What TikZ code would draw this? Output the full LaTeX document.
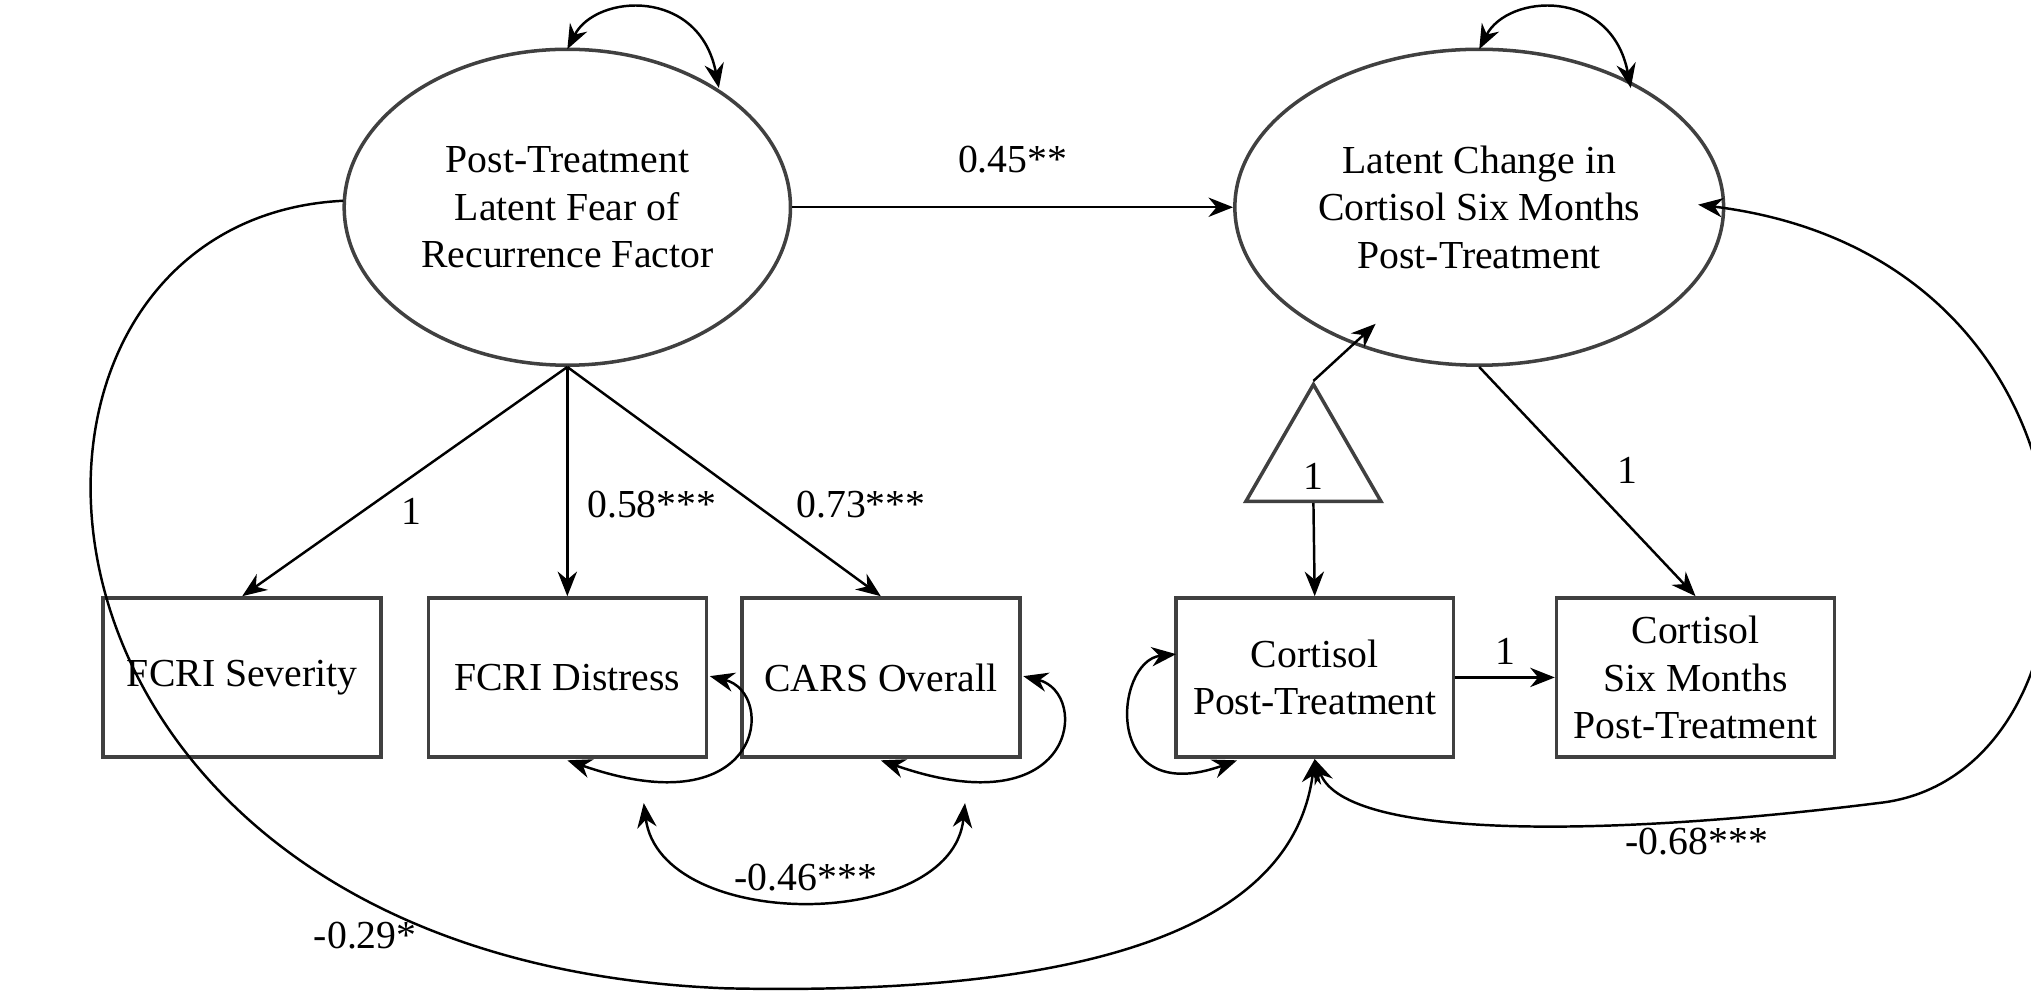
\documentclass[tikz,border=0pt]{standalone}
\usepackage{fontspec}
\setmainfont{Liberation Serif}
\usetikzlibrary{arrows.meta,shapes.geometric}
\begin{document}
\begin{tikzpicture}[x=0.01295cm,y=-0.01295cm,
  every node/.style={font=\fontsize{11.3}{13.6}\selectfont},
  lat/.style={draw=black!75,line width=1pt,ellipse,minimum width=4.43cm,minimum height=3.16cm,align=center},
  box/.style={draw=black!75,line width=1pt,minimum width=2.78cm,minimum height=1.59cm,align=center},
  arr/.style={-{Stealth[length=7pt,width=5.5pt]},line width=0.7pt},
  dbl/.style={{Stealth[length=7pt,width=5.5pt]}-{Stealth[length=7pt,width=5.5pt]},line width=0.7pt},
  lab/.style={font=\fontsize{11.3}{13.6}\selectfont}]
\useasboundingbox (0,0) rectangle (1568,771);
\node[lat] (F) at (438,160) {Post-Treatment\\Latent Fear of\\Recurrence Factor};
\node[lat] (C) at (1142,160) {Latent Change in\\Cortisol Six Months\\Post-Treatment};
\node[box] (S) at (187,523) {FCRI Severity};
\node[box] (D) at (438,523) {FCRI Distress};
\node[box] (O) at (680,523) {CARS Overall};
\node[box] (P) at (1015,523) {Cortisol\\Post-Treatment};
\node[box] (M) at (1309,523) {Cortisol\\Six Months\\Post-Treatment};
\node[draw=black!75,line width=1pt,isosceles triangle,shape border rotate=90,isosceles triangle apex angle=60,minimum width=1.3cm,minimum height=1.17cm,inner sep=0pt] (T) at (1014,357) {};
\node (T1) at (1014,368) {1};
% self loops on latents
\coordinate (f1) at (438,38); \coordinate (f2) at (555,68);
\draw[dbl] (f1) .. controls (460,-5) and (540,-10) .. (f2);
\coordinate (c1) at (1142,38); \coordinate (c2) at (1259,68);
\draw[dbl] (c1) .. controls (1164,-5) and (1244,-10) .. (c2);
% loadings
\draw[arr] (F.south) -- (S.north);
\node[lab] (l1) at (318,395) {1};
\draw[arr] (F.south) -- (D.north) node[pos=0.6,right=2pt,lab] {0.58***};
\draw[arr] (F.south) -- (O.north) node[pos=0.6,right=8pt,lab] {0.73***};
\draw[arr] (F.east) -- (C.west) node[midway,above=6pt,lab] {0.45**};
\coordinate (ct) at (1062,250);
\draw[arr] (T.apex) -- (ct);
\draw[arr] (T.south) -- (P.north);
\draw[arr] (C.south) -- (M.north) node[pos=0.45,right=8pt,lab] {1};
\draw[arr] (P.east) -- (M.west) node[midway,above,lab] {1};
% residuals
\coordinate (d1) at (548,522); \coordinate (d2) at (438,587);
\draw[dbl] (d1) .. controls (600,535) and (590,640) .. (d2);
\coordinate (o1) at (790,522); \coordinate (o2) at (680,587);
\draw[dbl] (o1) .. controls (842,535) and (832,640) .. (o2);
\coordinate (dd) at (497,620); \coordinate (oo) at (745,620);
\draw[dbl] (dd) .. controls (510,720) and (735,720) .. (oo) node[pos=0.5,above=-1pt,lab] {-0.46***};
\coordinate (p1) at (908,505); \coordinate (p2) at (955,587);
\draw[dbl] (p1) .. controls (860,510) and (850,625) .. (p2);
% covariances
\coordinate (pb) at (1015,586);
\coordinate (fl) at (265,155);
\draw[arr] (fl) .. controls (-40,170) and (-20,740) .. (560,763) .. controls (880,770) and (1000,700) .. (pb);
\node[lab] at (282,722) {-0.29*};
\coordinate (cr) at (1311,158);
\draw[dbl] (pb) .. controls (1040,650) and (1250,645) .. (1450,620) .. controls (1640,600) and (1650,200) .. (cr);
\node[lab] at (1310,650) {-0.68***};
\end{tikzpicture}
\end{document}
